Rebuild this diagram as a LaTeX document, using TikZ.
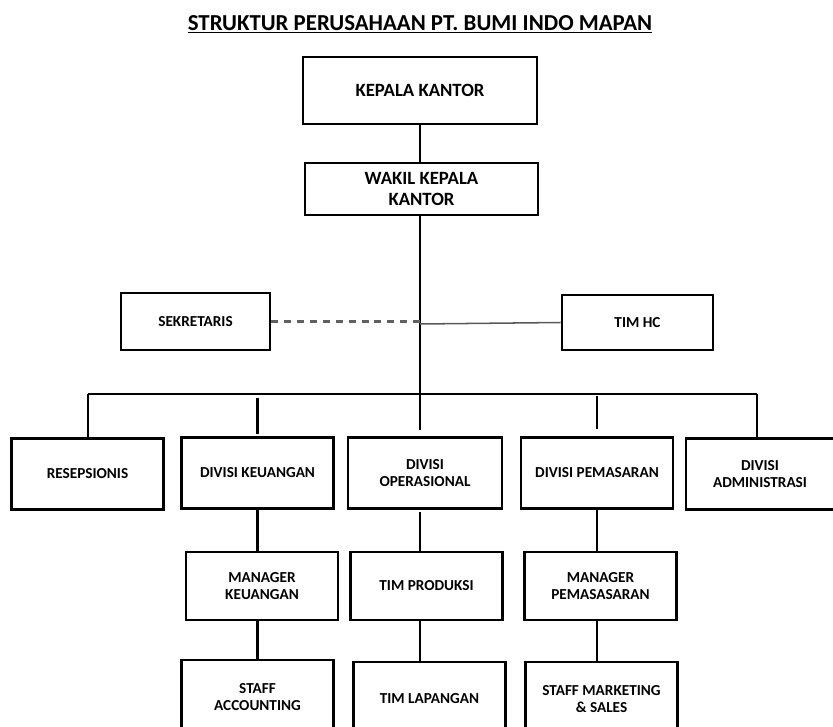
\documentclass[tikz,border=0pt]{standalone}
\usepackage{fontspec}
\setmainfont{Carlito}

\begin{document}
\begin{tikzpicture}[x=0.03cm,y=-0.03cm]
  \useasboundingbox (0,0) rectangle (833,727);
  \tikzset{
    Box/.style = {draw, line width=2.3pt, align=center, inner sep=2pt,
      font=\bfseries\fontsize{13}{15}\selectfont,
      minimum width=4.56cm, minimum height=2.13cm},
    TopBox/.style = {Box, font=\bfseries\fontsize{16}{18.5}\selectfont},
    Link/.style = {line width=2.2pt},
  }

  % Title
  \node[font=\bfseries\fontsize{19.5}{22}\selectfont, anchor=base] (title) at (420,30)
    {\underline{STRUKTUR PERUSAHAAN PT. BUMI INDO MAPAN}};

  % Vertices
  \node[TopBox, minimum width=7.02cm, minimum height=2.01cm] (kepala) at (420,90.5) {KEPALA KANTOR};
  \node[TopBox, minimum width=6.99cm, minimum height=1.56cm] (wakil) at (421.5,189) {WAKIL KEPALA\\KANTOR};
  \node[Box, minimum width=4.47cm, minimum height=1.71cm] (sekretaris) at (195.5,321.5) {SEKRETARIS};
  \node[Box, minimum width=4.53cm, minimum height=1.65cm] (timhc) at (637.5,322.5) {TIM HC};
  \node[Box] (resepsionis) at (87.5,474) {RESEPSIONIS};
  \node[Box] (keuangan) at (257.5,473) {DIVISI KEUANGAN};
  \node[Box, minimum width=4.62cm] (operasional) at (425,473) {DIVISI\\OPERASIONAL};
  \node[Box] (pemasaran) at (597,473) {DIVISI PEMASARAN};
  \node[Box, minimum width=4.44cm] (administrasi) at (760,474) {DIVISI\\ADMINISTRASI};
  \node[Box, minimum height=2.04cm] (mgrkeu) at (262,586) {MANAGER\\KEUANGAN};
  \node[Box, minimum height=2.04cm] (produksi) at (426.5,586) {TIM PRODUKSI};
  \node[Box, minimum height=2.04cm] (mgrpem) at (600.5,586) {MANAGER\\PEMASASARAN};
  \node[Box, minimum height=2.22cm] (staffacc) at (257.5,697) {STAFF\\ACCOUNTING};
  \node[Box, minimum height=2.22cm] (lapangan) at (429.5,699) {TIM LAPANGAN};
  \node[Box, minimum height=2.22cm] (marketing) at (601.5,699) {STAFF MARKETING\\\& SALES};

  % Edges
  \coordinate (bus) at (420,394);
  \coordinate (busL) at (88,394);
  \coordinate (busR) at (757,394);
  \coordinate (hub) at (420,324);
  \draw[Link] (kepala.south) -- (kepala.south |- wakil.north);
  \draw[Link] (kepala.south |- wakil.south) -- (bus);
  \draw[Link] (busL) -- (busR);
  \draw[Link] (busL) -- (busL |- resepsionis.north);
  \draw[Link, shorten <=3pt, shorten >=2pt] (keuangan.north |- bus) -- (keuangan.north);
  \draw[Link, shorten >=5pt] (bus) -- (bus |- operasional.north);
  \draw[Link, shorten <=2pt, shorten >=6pt] (pemasaran.north |- bus) -- (pemasaran.north);
  \draw[Link] (busR) -- (busR |- administrasi.north);
  \draw[Link] (keuangan.south) -- (keuangan.south |- mgrkeu.north);
  \draw[Link, shorten <=2pt] (bus |- operasional.south) -- (bus |- produksi.north);
  \draw[Link] (pemasaran.south) -- (pemasaran.south |- mgrpem.north);
  \draw[Link] (keuangan.south |- mgrkeu.south) -- (keuangan.south |- staffacc.north);
  \draw[Link] (bus |- produksi.south) -- (bus |- lapangan.north);
  \draw[Link] (pemasaran.south |- mgrpem.south) -- (pemasaran.south |- marketing.north);
  \draw[gray!75!black, line width=1.8pt, dash pattern=on 6pt off 5pt] (sekretaris.east) -- (sekretaris.east -| hub);
  \draw[gray!70!black, line width=1.3pt] (hub) -- (timhc.west);
\end{tikzpicture}
\end{document}
